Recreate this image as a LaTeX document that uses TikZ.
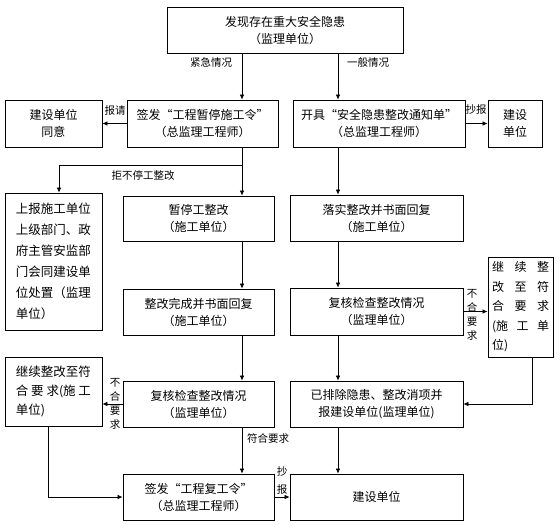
\documentclass[tikz,border=0pt]{standalone}
\usepackage{fontspec}
\newfontfamily\cjk{Noto Sans CJK SC}
\usetikzlibrary{arrows.meta}

\begin{document}
\begin{tikzpicture}[x=1pt,y=-1pt,
        box/.style={draw,line width=0.8pt,fill=white,inner sep=2pt,align=center,
            font=\cjk\fontsize{12}{17}\selectfont},
        lbl/.style={inner sep=0pt,align=center,font=\cjk\fontsize{10.5}{14}\selectfont},
        arr/.style={-{Latex[length=5pt,width=4.5pt]},line width=0.7pt}]
        \fill[white] (0,0) rectangle (560,528);
        \useasboundingbox (0,0) rectangle (560,528);
        \coordinate (cl) at (242,0);
        \coordinate (cr) at (338,0);
        \coordinate (rd) at (532,0);
        \coordinate (ld) at (48,0);
        \coordinate (br) at (242,165);
        \coordinate (bl) at (59,165);
        % row 1
        \node[box,minimum width=236pt,minimum height=46pt] (top) at (285,30) {发现存在重大安全隐患\\（监理单位）};
        % row 2
        \node[box,minimum width=97pt,minimum height=47pt] (ja) at (53.5,123.5) {建设单位\\同意};
        \node[box,minimum width=151pt,minimum height=47pt] (qf) at (202.5,123.5) {签发“工程暂停施工令”\\（总监理工程师）};
        \node[box,minimum width=172pt,minimum height=47pt] (kj) at (379,123.5) {开具“安全隐患整改通知单”\\（总监理工程师）};
        \node[box,minimum width=54pt,minimum height=47pt] (js) at (515,123.5) {建设\\单位};
        % row 3
        \node[box,align=left,minimum width=97pt,minimum height=137pt,font=\cjk\fontsize{12.5}{21}\selectfont] (sb) at (53.5,261.5)
            {上报施工单位\\上级部门、政\\府主管安监部\\门会同建设单\\位处置（监理\\单位）};
        \node[box,minimum width=151pt,minimum height=45pt] (zt) at (198.5,218.5) {暂停工整改\\（施工单位）};
        \node[box,minimum width=173pt,minimum height=46pt] (ls) at (376.5,218) {落实整改并书面回复\\（施工单位）};
        % row 4
        \node[box,minimum width=151pt,minimum height=46pt] (wc) at (198.5,312) {整改完成并书面回复\\（施工单位）};
        \node[box,minimum width=173pt,minimum height=47pt] (fhR) at (376.5,311.5) {复核检查整改情况\\（监理单位）};
        \node[box,align=left,minimum width=65pt,minimum height=100pt,font=\cjk\fontsize{12}{19.5}\selectfont] (jxR) at (520.5,307)
            {\makebox[57pt][s]{继 续 整}\\\makebox[57pt][s]{改 至 符}\\\makebox[57pt][s]{合 要 求}\\\makebox[57pt][s]{(施 工 单}\\位)};
        % row 5
        \node[box,align=left,minimum width=97pt,minimum height=69pt,font=\cjk\fontsize{12.5}{19}\selectfont] (jxL) at (53.5,391.5)
            {继续整改至符\\\makebox[75pt][s]{合 要 求(施 工}\\单位)};
        \node[box,minimum width=151pt,minimum height=46pt] (fhL) at (198.5,404) {复核检查整改情况\\（监理单位）};
        \node[box,minimum width=173pt,minimum height=46pt] (yp) at (376.5,404) {已排除隐患、整改消项并\\报建设单位(监理单位)};
        % row 6
        \node[box,minimum width=151pt,minimum height=46pt] (fg) at (198.5,497) {签发“工程复工令”\\（总监理工程师）};
        \node[box,minimum width=173pt,minimum height=46pt] (jsB) at (376.5,497) {建设单位};
        % labels
        \node[lbl] (l1) at (211,62) {紧急情况};
        \node[lbl] (l2) at (368,63) {一般情况};
        \node[lbl] (l3) at (115,111) {报请};
        \node[lbl] (l4) at (476,110) {抄报};
        \node[lbl] (l5) at (143,175) {拒不停工整改};
        \node[lbl] (l6) at (472,315) {不\\合\\要\\求};
        \node[lbl] (l7) at (115,404) {不\\合\\要\\求};
        \node[lbl] (l8) at (268,438) {符合要求};
        \node[lbl,font=\cjk\fontsize{10.5}{18}\selectfont] (l9) at (282,481) {抄\\报};
        % connectors
        \draw[arr] (top.south -| cl) -- (qf.north -| cl);
        \draw[arr] (top.south -| cr) -- (kj.north -| cr);
        \draw[arr] (qf.west) -- (ja.east);
        \draw[arr] (kj.east) -- (js.west);
        \draw[arr] (qf.south -| cl) -- (zt.north -| cl);
        \draw[arr] (br) -- (bl) -- (sb.north -| bl);
        \draw[arr] (kj.south -| cr) -- (ls.north -| cr);
        \draw[arr] (zt.south -| cl) -- (wc.north -| cl);
        \draw[arr] (ls.south -| cr) -- (fhR.north -| cr);
        \draw[arr] (fhR.east) -- (fhR.east -| jxR.west);
        \draw[arr] (wc.south -| cl) -- (fhL.north -| cl);
        \draw[arr] (fhR.south -| cr) -- (yp.north -| cr);
        \draw[arr] (jxR.south -| rd) |- (yp.east);
        \draw[arr] (fhL.west) -- (jxL.east |- fhL.west);
        \draw[arr] (jxL.south -| ld) |- (fg.west);
        \draw[arr] (fhL.south -| cl) -- (fg.north -| cl);
        \draw[arr] (yp.south -| cr) -- (jsB.north -| cr);
        \draw[arr] (fg.east) -- (jsB.west);
    \end{tikzpicture}
\end{document}
